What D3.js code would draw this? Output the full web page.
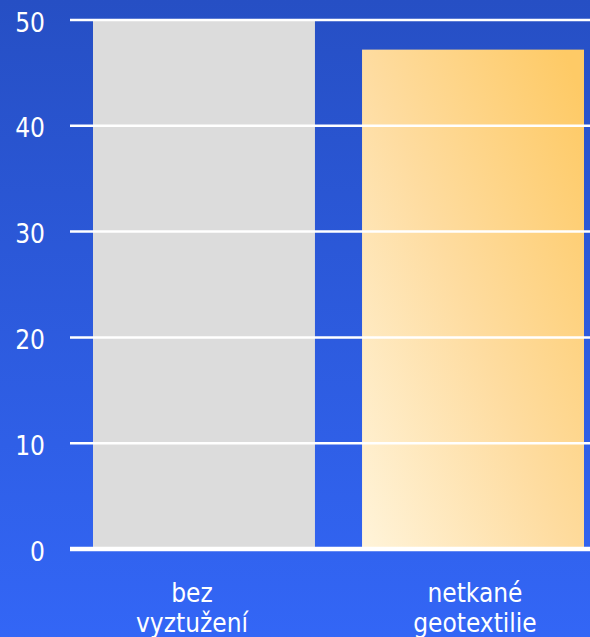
<!DOCTYPE html>
<html>
<head>
<meta charset="utf-8">
<script src="https://cdn.jsdelivr.net/npm/d3@7"></script>
<style>
html,body{margin:0;padding:0;background:#2c5bdc;}
svg{display:block;}
</style>
</head>
<body>
<svg id="chart" width="590" height="637"></svg>
<script>
const categories = [["bez", "vyztužení"], ["netkané", "geotextilie"]];
const values = [50, 47.2];
const yTicks = [0, 10, 20, 30, 40, 50];

const W = 590, H = 637;
const svg = d3.select("#chart");
const defs = svg.append("defs");

const bg = defs.append("linearGradient").attr("id","bg").attr("x1",0).attr("y1",0).attr("x2",0).attr("y2",1);
bg.append("stop").attr("offset","0%").attr("stop-color","#264fc4");
bg.append("stop").attr("offset","100%").attr("stop-color","#3366f6");

const bar2 = defs.append("linearGradient").attr("id","bar2").attr("x1",0).attr("y1",1).attr("x2",1).attr("y2",0.1);
bar2.append("stop").attr("offset","0%").attr("stop-color","#fff4da");
bar2.append("stop").attr("offset","50%").attr("stop-color","#fedca0");
bar2.append("stop").attr("offset","100%").attr("stop-color","#feca66");

svg.append("rect").attr("width",W).attr("height",H).attr("fill","url(#bg)");

const keys = categories.map(c => c.join(" "));
const x = d3.scaleBand().domain(keys).range([93, 584]).paddingInner(0.175).paddingOuter(0);
const xLabel = d3.scalePoint().domain(keys).range([192, 475]);
const y = d3.scaleLinear().domain([0, 50]).range([549, 20]);

const font = "'DejaVu Sans Condensed','DejaVu Sans',sans-serif";

// bars
svg.selectAll("rect.bar").data(values).join("rect")
  .attr("class","bar")
  .attr("x",(d,i)=>x(keys[i]))
  .attr("width",x.bandwidth())
  .attr("y",d=>y(d))
  .attr("height",d=>y(0)-y(d))
  .attr("fill",(d,i)=> i===0 ? "#dcdcdc" : "url(#bar2)");

// gridlines
svg.selectAll("line.grid").data(yTicks).join("line")
  .attr("class","grid")
  .attr("x1",70).attr("x2",W)
  .attr("y1",d=>y(d)).attr("y2",d=>y(d))
  .attr("stroke","#ffffff")
  .attr("stroke-width",d=> d===0 ? 4.5 : 2.5);

// y tick labels
svg.selectAll("text.ytick").data(yTicks).join("text")
  .attr("class","ytick")
  .attr("x",45).attr("y",d=>y(d)+11.5)
  .attr("text-anchor","end")
  .attr("fill","#ffffff")
  .attr("font-family",font)
  .attr("font-size",26)
  .text(d=>d);

// category labels
const cl = svg.selectAll("text.cat").data(categories).join("text")
  .attr("class","cat")
  .attr("text-anchor","middle")
  .attr("fill","#ffffff")
  .attr("font-family",font)
  .attr("font-size",26);
cl.selectAll("tspan").data((d,i)=>d.map(t=>({t, i}))).join("tspan")
  .attr("x",d=>xLabel(keys[d.i]))
  .attr("y",(d,j)=>601.7 + j*30)
  .text(d=>d.t);
</script>
</body>
</html>
